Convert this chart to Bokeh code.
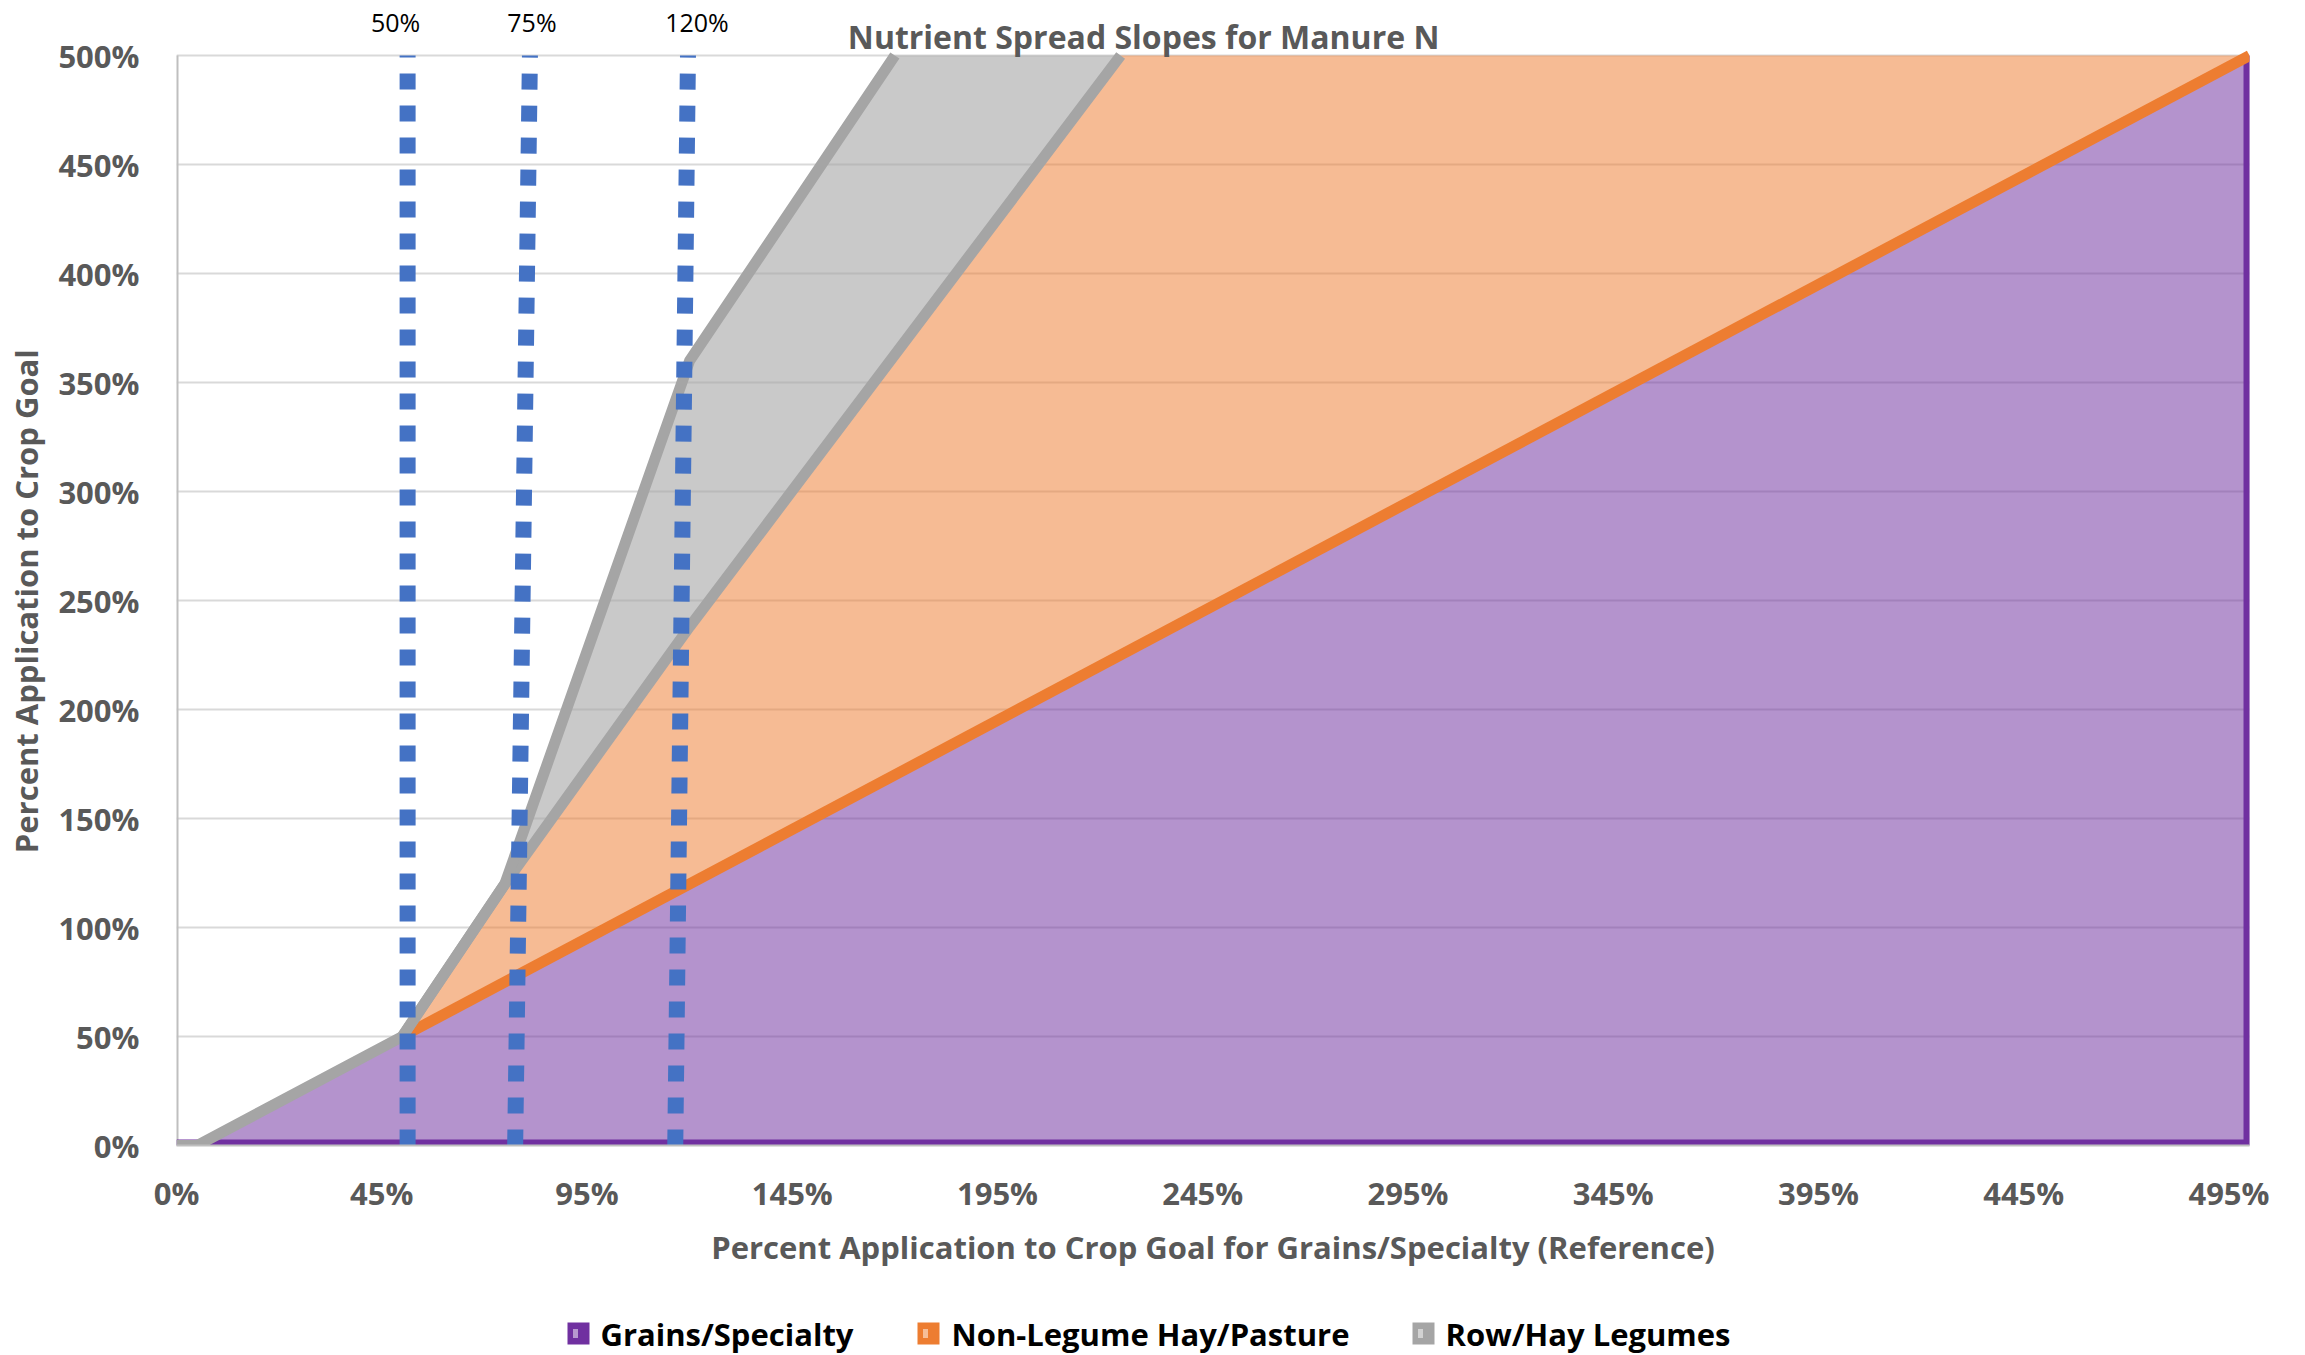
from bokeh.plotting import figure
from bokeh.models import Range1d, FixedTicker, Label
from bokeh.layouts import column
from bokeh.embed import file_html
from bokeh.resources import INLINE
from bokeh.core.properties import value

# ---------------- data ----------------
title_text = "Nutrient Spread Slopes for Manure N"
x_title = "Percent Application to Crop Goal for Grains/Specialty (Reference)"
y_title = "Percent Application to Crop Goal"
series_names = ["Grains/Specialty", "Non-Legume Hay/Pasture", "Row/Hay Legumes"]

# category axis: first category sits one 5% step before 0%
x_tick_values = [-5, 45, 95, 145, 195, 245, 295, 345, 395, 445, 495]
x_tick_labels = ["0%", "45%", "95%", "145%", "195%", "245%", "295%", "345%", "395%", "445%", "495%"]
y_tick_values = [0, 50, 100, 150, 200, 250, 300, 350, 400, 450, 500]
y_tick_labels = ["0%", "50%", "100%", "150%", "200%", "250%", "300%", "350%", "400%", "450%", "500%"]

grains_x = [-5, 0, 500]
grains_y = [0, 0, 500]

nonlegume_x = [50, 500]
nonlegume_y = [50, 500]

legume_upper_x = [-5, 0, 50, 75, 120, 170]
legume_upper_y = [0, 0, 50, 120, 360, 500]
legume_lower_x = [50, 75, 120, 225]
legume_lower_y = [50, 120, 238, 500]

ref_labels = ["50%", "75%", "120%"]
ref_bottom_x = [51.3, 77.5, 116.5]
ref_top_x = [51.3, 81.1, 119.6]
ref_label_dx = [-12, 2, 9]   # label shift (px) from line top

# ---------------- style ----------------
FONT = "Open Sans"
GREY_TXT = "#595959"
PURPLE = "#7030A0"
ORANGE = "#ED7D31"
GREY = "#A5A5A5"
BLUE = "#4472C4"

W = 2305
LEFT, RIGHT = 176, 56
TOP_SPACE, FRAME_H, BOTTOM_PAD, H_LEG = 55, 1090, 145, 65
Y_MAX = y_tick_values[-1]
y_top = Y_MAX + TOP_SPACE * Y_MAX / FRAME_H     # room above the plot area for the labels
H_MAIN = TOP_SPACE + FRAME_H + BOTTOM_PAD

p = figure(width=W, height=H_MAIN, output_backend="svg", toolbar_location=None,
           x_range=Range1d(x_tick_values[0], 500), y_range=Range1d(0, y_top),
           min_border_left=LEFT, min_border_right=RIGHT, min_border_top=0,
           min_border_bottom=BOTTOM_PAD)
p.outline_line_color = None
p.background_fill_color = "white"
p.border_fill_color = "white"
p.xgrid.grid_line_color = None
p.ygrid.grid_line_color = "#D9D9D9"
p.ygrid.grid_line_width = 2
p.ygrid.ticker = FixedTicker(ticks=y_tick_values)

# left border of the plot area (stops at 500%)
p.segment(x0=[x_tick_values[0]], y0=[0], x1=[x_tick_values[0]], y1=[Y_MAX],
          line_color="#BFBFBF", line_width=4)

# fills
p.patch(legume_upper_x[2:] + legume_lower_x[::-1], legume_upper_y[2:] + legume_lower_y[::-1],
        fill_color=GREY, fill_alpha=0.6, line_color=None)
p.patch(legume_lower_x + [nonlegume_x[-1]], legume_lower_y + [nonlegume_y[-1]],
        fill_color=ORANGE, fill_alpha=0.52, line_color=None)
p.varea(x=grains_x, y1=[0] * len(grains_x), y2=grains_y, fill_color=PURPLE, fill_alpha=0.52)

# outlines
p.line([grains_x[0], grains_x[-1], grains_x[-1]], [0, 0, grains_y[-1]], line_color=PURPLE,
       line_width=12, line_join="miter")
p.line(nonlegume_x, nonlegume_y, line_color=ORANGE, line_width=11)
p.line(legume_lower_x, legume_lower_y, line_color=GREY, line_width=11, line_join="miter")
p.line(legume_upper_x, legume_upper_y, line_color=GREY, line_width=11, line_join="miter")

# reference dotted lines
p.segment(x0=ref_bottom_x, y0=[0] * 3, x1=ref_top_x, y1=[Y_MAX] * 3,
          line_color=BLUE, line_width=16, line_dash="16 16", line_cap="butt")
for lab, xt, dx in zip(ref_labels, ref_top_x, ref_label_dx):
    p.add_layout(Label(x=xt, y=Y_MAX, x_offset=dx, y_offset=TOP_SPACE - 21, text=lab,
                       text_font=FONT, text_font_size="25px", text_color="black",
                       text_align="center", text_baseline="middle"))

# chart title (kept fully visible at the top)
p.add_layout(Label(x=230.6, y=Y_MAX, y_offset=TOP_SPACE - 36, text=title_text, text_font=FONT,
                   text_font_size="32px", text_font_style="bold", text_color=GREY_TXT,
                   text_align="center", text_baseline="alphabetic"))

# axes
p.xaxis.ticker = FixedTicker(ticks=x_tick_values)
p.xaxis.major_label_overrides = {v: l for v, l in zip(x_tick_values, x_tick_labels)}
p.yaxis.ticker = FixedTicker(ticks=y_tick_values)
p.yaxis.major_label_overrides = {v: l for v, l in zip(y_tick_values, y_tick_labels)}
for ax in (p.xaxis[0], p.yaxis[0]):
    ax.major_tick_line_color = None
    ax.minor_tick_line_color = None
    ax.major_tick_out = 0
    ax.major_tick_in = 0
    ax.axis_line_color = "#BFBFBF"
    ax.axis_line_width = 2
    ax.major_label_text_font = FONT
    ax.major_label_text_font_style = "bold"
    ax.major_label_text_font_size = "31px"
    ax.major_label_text_color = GREY_TXT
    ax.axis_label_text_font = FONT
    ax.axis_label_text_font_style = "bold"
    ax.axis_label_text_font_size = "31px"
    ax.axis_label_text_color = GREY_TXT
p.yaxis.axis_line_color = None
p.xaxis.axis_label = x_title
# trailing no-break spaces centre the visible y title on the plot area (0-500%)
p.yaxis.axis_label = y_title + "\u00a0" * 7
p.xaxis.major_label_standoff = 26
p.xaxis.axis_label_standoff = 9
p.yaxis.major_label_standoff = 37
p.yaxis.axis_label_standoff = 8

# ---------------- legend ----------------
leg = figure(width=W, height=H_LEG, output_backend="svg", toolbar_location=None,
             x_range=Range1d(LEFT, W - RIGHT), y_range=Range1d(0, H_LEG),
             x_axis_type=None, y_axis_type=None,
             min_border_left=LEFT, min_border_right=RIGHT, min_border_top=0, min_border_bottom=0)
leg.outline_line_color = None
leg.grid.visible = False
leg_marker_x = [578, 928, 1423]
leg_text_x = [600, 951, 1445]
leg_y = 22
leg.scatter(x=leg_marker_x, y=[leg_y] * 3, marker="square", size=22,
            fill_color=[PURPLE, ORANGE, GREY], line_color=None)
leg.rect(x=[m - 3 for m in leg_marker_x], y=[leg_y] * 3, width=5, height=9,
         width_units="screen", height_units="screen",
         fill_color=["#B898D0", "#F6BE98", "#D2D2D2"], line_color=None)
leg.text(x=leg_text_x, y=[leg_y] * 3, text=series_names, text_font=value(FONT),
         text_font_style="bold", text_font_size="31px", text_color="black",
         text_baseline="middle", text_align="left")

layout = column(p, leg, spacing=0)
open("out.html", "w").write(file_html(layout, INLINE))
